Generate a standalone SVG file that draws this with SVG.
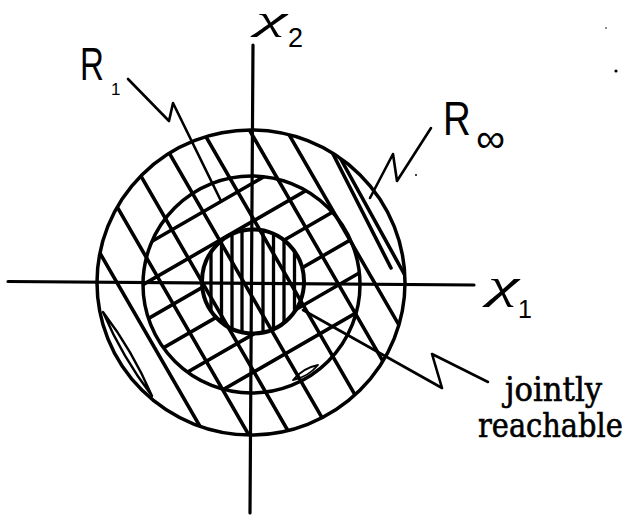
<svg xmlns="http://www.w3.org/2000/svg" width="634" height="520" viewBox="0 0 634 520">
<style>
.ln{stroke:#000;fill:none;stroke-linecap:round;stroke-linejoin:round}
.c{stroke-width:3.5}
.h{stroke-width:3.6}
.v{stroke-width:3.3}
.ax{stroke-width:3.2}
.ld{stroke-width:2.6}
.hw{font-family:"Liberation Sans","DejaVu Sans",sans-serif;fill:#000}
.chi{font-family:"Liberation Serif","DejaVu Serif",serif;font-style:italic;fill:#000}
.pt{font-family:"DejaVu Serif","Liberation Serif",serif;font-size:33px;fill:#000;stroke:#000;stroke-width:0.6}
</style>
<defs>
<clipPath id="cOuter"><ellipse cx="251" cy="282.5" rx="154" ry="152.5"/></clipPath>
<clipPath id="cMid"><path clip-rule="evenodd" d="M143,284.5 a108.5,108.5 0 1,0 217,0 a108.5,108.5 0 1,0 -217,0 Z M202,281.5 a51,52 0 1,0 102,0 a51,52 0 1,0 -102,0 Z"/></clipPath>
<clipPath id="cInner"><ellipse cx="253" cy="281.5" rx="51" ry="52"/></clipPath>
</defs>
<rect width="634" height="520" fill="#fff"/>

<g id="hatch-R-infinity" clip-path="url(#cOuter)">
<g transform="rotate(60)" class="ln h">
<path d="M200,40H540 M200,2H540 M200,-34H540 M200,-70H540 M200,-110H540 M200,-151H540 M200,-183H540"/>
</g>
<path class="ln h" d="M333,154L391,268 M338,154L407,279"/>
</g>
<g id="hatch-R1" clip-path="url(#cMid)">
<g transform="rotate(-30)" class="ln h">
<path d="M-60,285H210 M-60,318H210 M-60,350H210 M-60,383H210 M-60,416H210 M-60,449H210"/>
</g>
</g>
<g id="hatch-joint" clip-path="url(#cInner)" class="ln v">
<path d="M211,225V340 M221.5,225V340 M232,225V340 M242,225V340 M263,225V340 M273.5,225V340 M284,225V340 M294.5,225V340"/>
</g>

<g id="region-R-infinity"><ellipse class="ln c" cx="251" cy="282.5" rx="154" ry="152.5"/>
<path class="ln" stroke-width="2.4" d="M103,312 Q122.3,357 152,396 Q132.7,351 103,312 Z"/></g>
<g id="region-R1"><ellipse class="ln c" cx="251.5" cy="284.5" rx="108.5" ry="108.5"/>
<path class="ln" stroke-width="1.8" d="M293,380 Q308,377 318,365 Q303,368 293,380 Z"/></g>
<g id="region-joint"><ellipse class="ln" stroke-width="4" cx="253" cy="281.5" rx="51" ry="52"/></g>

<g id="axes" class="ln ax">
<path d="M8,281.5L474,285"/>
<path d="M253,45L250,513"/>
</g>

<g id="connectors" class="ln ld">
<path d="M128,79L169,121L173,103L221,201"/>
<path d="M431,128L397,181L393,154L370,198"/>
<path d="M303,310L442,388L432,354L488,382"/>
</g>

<g id="label-x2"><text class="chi" x="256" y="30" font-size="34" textLength="31" lengthAdjust="spacingAndGlyphs">χ</text><text class="hw" x="288" y="47" font-size="27">2</text></g>
<g id="label-x1"><text class="chi" x="488" y="298" font-size="42" textLength="31" lengthAdjust="spacingAndGlyphs">χ</text><text class="hw" x="518" y="318" font-size="25">1</text></g>
<g id="label-R1"><text class="hw" transform="translate(80,80) scale(0.72,1)" font-size="46">R</text><text class="hw" x="111" y="95" font-size="17">1</text></g>
<g id="label-Rinf"><text class="hw" transform="translate(443,135) scale(0.8,1)" font-size="48">R</text><text class="hw" x="476" y="152" font-size="40" textLength="29" lengthAdjust="spacingAndGlyphs">∞</text></g>
<g id="label-joint"><text class="pt" transform="translate(505,401) scale(0.93,1)">jointly</text><text class="pt" transform="translate(478,437) scale(0.875,1)">reachable</text></g>

<g id="specks" fill="#000"><circle cx="616" cy="71" r="1.6"/><circle cx="606" cy="28" r="0.8"/><circle cx="416" cy="175" r="1"/></g>
</svg>
